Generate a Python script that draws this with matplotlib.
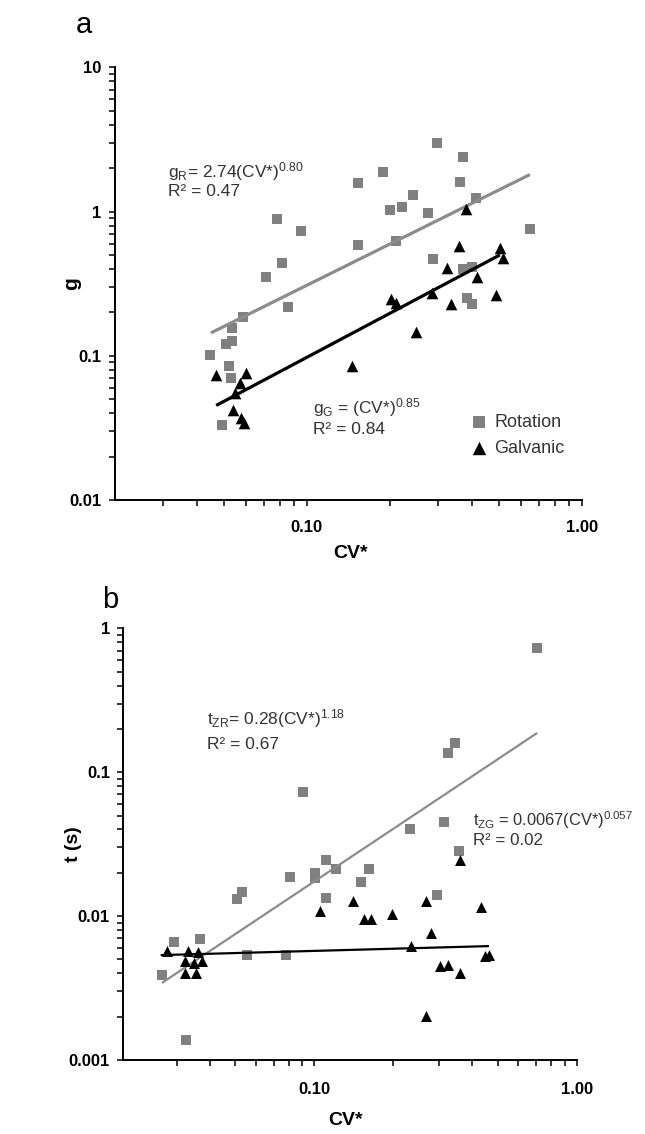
import numpy as np
import matplotlib
matplotlib.use("Agg")
import matplotlib.pyplot as plt
from matplotlib.ticker import LogLocator, FixedLocator, FixedFormatter, NullFormatter

plt.rcParams['font.family'] = ['Liberation Sans', 'DejaVu Sans']
plt.rcParams['mathtext.fontset'] = 'custom'
plt.rcParams['mathtext.rm'] = 'Liberation Sans'
plt.rcParams['mathtext.it'] = 'Liberation Sans'
plt.rcParams['mathtext.bf'] = 'Liberation Sans:bold'

# ---------------- Panel a data ----------------
a_rot_cv = [0.0446, 0.0493, 0.0506, 0.0523, 0.0532, 0.0536, 0.0536, 0.0588, 0.0713, 0.0815,
            0.0851, 0.0782, 0.0956, 0.1530, 0.1530, 0.1888, 0.2002, 0.2214, 0.2427, 0.2105,
            0.2970, 0.3693, 0.3601, 0.2754, 0.4119, 0.6479, 0.2871, 0.3693, 0.3983, 0.3820, 0.3983]
a_rot_g = [0.101, 0.0331, 0.1206, 0.0848, 0.0701, 0.1556, 0.1264, 0.1854, 0.351, 0.4388,
           0.2176, 0.886, 0.7313, 1.573, 0.585, 1.875, 1.023, 1.073, 1.2995, 0.6235,
           2.979, 2.382, 1.598, 0.975, 1.238, 0.755, 0.468, 0.399, 0.4118, 0.251, 0.2283]
a_gal_cv = [0.04676, 0.0601, 0.0573, 0.0548, 0.0537, 0.0577, 0.0589, 0.1464, 0.2030, 0.2117,
            0.2504, 0.3788, 0.3570, 0.5038, 0.5153, 0.3249, 0.4153, 0.2864, 0.3340, 0.4884]
a_gal_g = [0.0735, 0.0762, 0.0644, 0.0554, 0.0420, 0.0368, 0.0343, 0.0852, 0.246, 0.2307,
           0.1453, 1.039, 0.5756, 0.5549, 0.4732, 0.4035, 0.3527, 0.2706, 0.2271, 0.2634]
# trend lines (coefficient, exponent, x-range) as drawn
a_rot_fit = (2.72, 0.946, 0.0448, 0.648)
a_gal_fit = (1.00, 1.011, 0.0468, 0.504)

# ---------------- Panel b data ----------------
b_rot_cv = [0.0908, 0.7035, 0.3428, 0.3231, 0.2321, 0.3111, 0.3560, 0.1111, 0.1009, 0.1009,
            0.1210, 0.1615, 0.1512, 0.1108, 0.2933, 0.0807, 0.0507, 0.0532, 0.02935, 0.03657,
            0.0556, 0.0779, 0.02633, 0.03233]
b_rot_t = [0.0723, 0.7345, 0.1608, 0.1349, 0.0400, 0.0453, 0.02828, 0.02437, 0.01998, 0.01827,
           0.0211, 0.0211, 0.01714, 0.0134, 0.01399, 0.01856, 0.01312, 0.01475, 0.00663, 0.00692,
           0.00538, 0.00536, 0.00389, 0.001377]
b_gal_cv = [0.02751, 0.03309, 0.03603, 0.03214, 0.03479, 0.03724, 0.03214, 0.03532, 0.1051, 0.1401,
            0.1543, 0.1643, 0.1981, 0.2655, 0.3581, 0.4335, 0.2775, 0.2327, 0.3004, 0.3231,
            0.3581, 0.4462, 0.4634, 0.2672]
b_gal_t = [0.00571, 0.00571, 0.00562, 0.00487, 0.00469, 0.00487, 0.00404, 0.00404, 0.01088, 0.0127,
           0.00949, 0.00949, 0.01027, 0.0127, 0.02448, 0.01149, 0.00759, 0.00619, 0.0045, 0.00457,
           0.0040, 0.00528, 0.00536, 0.00203]
b_rot_fit = (0.2856, 1.215, 0.0263, 0.707)
b_gal_fit = (0.00643, 0.050, 0.0260, 0.463)

a_xticks = [0.1, 1.0]
a_xticklabels = ['0.10', '1.00']
a_yticks = [0.01, 0.1, 1, 10]
a_yticklabels = ['0.01', '0.1', '1', '10']
b_xticks = [0.1, 1.0]
b_xticklabels = ['0.10', '1.00']
b_yticks = [0.001, 0.01, 0.1, 1]
b_yticklabels = ['0.001', '0.01', '0.1', '1']
x_minor = [0.03, 0.04, 0.05, 0.06, 0.07, 0.08, 0.09, 0.2, 0.3, 0.4, 0.5, 0.6, 0.7, 0.8, 0.9]

GRAY = '#808080'
LGRAY = '#8c8c8c'
TXT = '#333333'

fig = plt.figure(figsize=(6.45, 11.34), dpi=100)
W, H = 645.0, 1134.0


def make_ax(l, r, t, b):
    return fig.add_axes([l / W, 1 - b / H, (r - l) / W, (b - t) / H])


def style(ax, xlim, ylim, xt, xtl, yt, ytl, xpad, ypad):
    ax.set_xscale('log')
    ax.set_yscale('log')
    ax.set_xlim(*xlim)
    ax.set_ylim(*ylim)
    for s in ('top', 'right'):
        ax.spines[s].set_visible(False)
    for s in ('left', 'bottom'):
        ax.spines[s].set_linewidth(1.4)
    ax.xaxis.set_major_locator(FixedLocator(xt))
    ax.xaxis.set_major_formatter(FixedFormatter(xtl))
    ax.yaxis.set_major_locator(FixedLocator(yt))
    ax.yaxis.set_major_formatter(FixedFormatter(ytl))
    ax.xaxis.set_minor_locator(FixedLocator(x_minor))
    ax.yaxis.set_minor_locator(LogLocator(base=10, subs=np.arange(2, 10)))
    ax.xaxis.set_minor_formatter(NullFormatter())
    ax.yaxis.set_minor_formatter(NullFormatter())
    ax.tick_params(which='both', direction='out', length=4.5, width=1.1, color='black')
    ax.tick_params(axis='x', which='major', pad=xpad, labelsize=12)
    ax.tick_params(axis='y', which='major', pad=ypad, labelsize=12)
    for lab in ax.get_xticklabels() + ax.get_yticklabels():
        lab.set_fontweight('bold')


def trend(ax, fit, color, lw):
    a, b, x0, x1 = fit
    xs = np.logspace(np.log10(x0), np.log10(x1), 50)
    ax.plot(xs, a * xs ** b, color=color, lw=lw, solid_capstyle='butt', zorder=3)


# ---------------- Panel a ----------------
ax1 = make_ax(114.7, 581.7, 67.3, 500.0)
style(ax1, (0.02, 1.0), (0.01, 10), a_xticks, a_xticklabels, a_yticks, a_yticklabels, 10, 5)
ax1.scatter(a_rot_cv, a_rot_g, marker='s', s=50, color=GRAY, linewidths=0, zorder=2, label='Rotation')
ax1.scatter(a_gal_cv, a_gal_g, marker='^', s=70, color='black', linewidths=0, zorder=4, label='Galvanic')
trend(ax1, a_rot_fit, LGRAY, 2.3)
trend(ax1, a_gal_fit, 'black', 2.3)
ax1.set_xlabel('CV*', fontsize=14, fontweight='bold')
ax1.xaxis.set_label_coords(0.504, -0.104)
ax1.set_ylabel('g', fontsize=15, fontweight='bold')
ax1.yaxis.set_label_coords(-0.072, 0.5)
ax1.text(0.1148, 0.758, r'g$_\mathrm{R}$= 2.74(CV*)$^{0.80}$', transform=ax1.transAxes,
         fontsize=12.5, color=TXT, va='center', ha='left')
ax1.text(0.1148, 0.714, 'R² = 0.47', transform=ax1.transAxes,
         fontsize=12.5, color=TXT, va='center', ha='left')
ax1.text(0.4246, 0.2126, r'g$_\mathrm{G}$ = (CV*)$^{0.85}$', transform=ax1.transAxes,
         fontsize=12.5, color=TXT, va='center', ha='left')
ax1.text(0.4246, 0.1618, 'R² = 0.84', transform=ax1.transAxes,
         fontsize=12.5, color=TXT, va='center', ha='left')
leg = ax1.legend(loc='upper left', bbox_to_anchor=(0.745, 0.215), frameon=False,
                 fontsize=13, handletextpad=0.35, borderaxespad=0, labelspacing=0.5,
                 handlelength=1.0, scatterpoints=1, markerscale=1.15)
for t in leg.get_texts():
    t.set_color(TXT)
fig.text(84 / W, 1 - 25 / H, 'a', fontsize=21, ha='center', va='center')

# ---------------- Panel b ----------------
ax2 = make_ax(122.5, 576.7, 628.3, 1060.0)
style(ax2, (0.0186, 1.0), (0.001, 1), b_xticks, b_xticklabels, b_yticks, b_yticklabels, 11, 4.5)
ax2.scatter(b_rot_cv, b_rot_t, marker='s', s=48, color=GRAY, linewidths=0, zorder=2)
ax2.scatter(b_gal_cv, b_gal_t, marker='^', s=62, color='black', linewidths=0, zorder=4)
trend(ax2, b_rot_fit, LGRAY, 1.6)
trend(ax2, b_gal_fit, 'black', 1.6)
ax2.set_xlabel('CV*', fontsize=14, fontweight='bold')
ax2.xaxis.set_label_coords(0.492, -0.12)
ax2.set_ylabel('t (s)', fontsize=14, fontweight='bold')
ax2.yaxis.set_label_coords(-0.09, 0.5)
ax2.text(0.1854, 0.7899, r't$_\mathrm{ZR}$= 0.28(CV*)$^{1.18}$', transform=ax2.transAxes,
         fontsize=12.5, color=TXT, va='center', ha='left')
ax2.text(0.1854, 0.7297, 'R² = 0.67', transform=ax2.transAxes,
         fontsize=12.5, color=TXT, va='center', ha='left')
ax2.text(0.772, 0.5559, r't$_\mathrm{ZG}$ = 0.0067(CV*)$^{0.057}$', transform=ax2.transAxes,
         fontsize=11.8, color=TXT, va='center', ha='left', clip_on=False)
ax2.text(0.772, 0.5073, 'R² = 0.02', transform=ax2.transAxes,
         fontsize=12.2, color=TXT, va='center', ha='left')
fig.text(110 / W, 1 - 600 / H, 'b', fontsize=21, ha='center', va='center')

fig.savefig('out.png', dpi=100)
